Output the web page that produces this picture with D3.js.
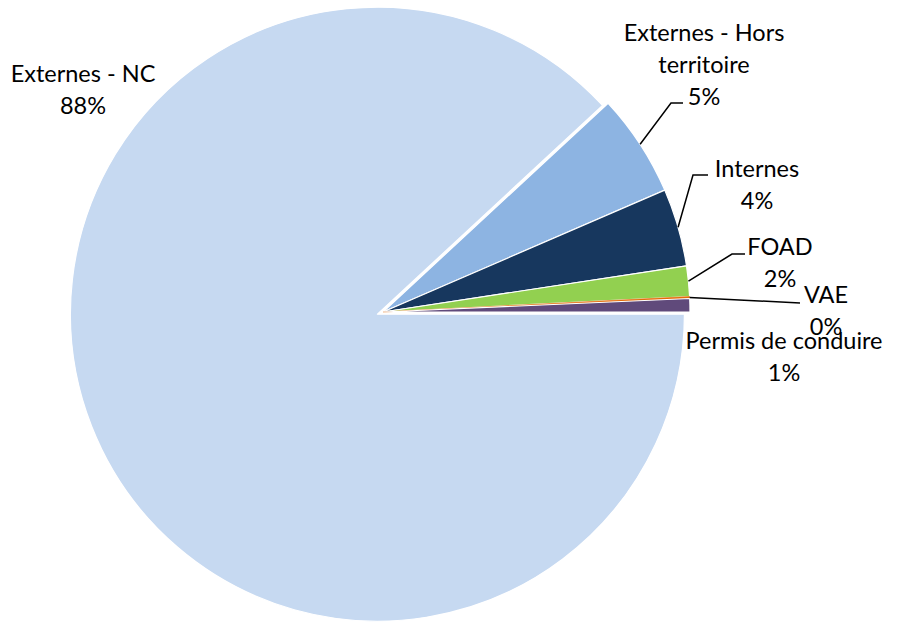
<!DOCTYPE html>
<html>
<head>
<meta charset="utf-8">
<script src="https://cdn.jsdelivr.net/npm/d3@7"></script>
<style>
  html, body { margin: 0; padding: 0; background: #ffffff; }
  svg { display: block; }
  text { font-family: Lato, "Open Sans", sans-serif; font-size: 23.5px; fill: #000; }
</style>
</head>
<body>
<svg id="chart" width="904" height="623"></svg>
<script>
// Répartition des formations par type (en %)
const categories = ["Externes - NC", "Externes - Hors territoire", "Internes", "FOAD", "VAE", "Permis de conduire"];
const values = [88.1, 5.4, 4.1, 1.6, 0.1, 0.7];
const colors = ["#C6D9F1", "#8DB4E2", "#17375E", "#92D050", "#E46C0A", "#604A7B"];

// Label text lines, anchor (centre x, first baseline) and optional leader elbow
const labelLines = [["Externes - NC"], ["Externes - Hors", "territoire"], ["Internes"], ["FOAD"], ["VAE"], ["Permis de conduire"]];
const labelAnchors = [[83, 82], [704, 41], [757, 177], [780, 255], [826, 303], [784, 349]];
const leaderElbows = [null, [[671, 103], [683, 103]], [[693, 175], [708, 175]], [[732, 254], [745, 254]], [[800, 303]], null];

const width = 904, height = 623;
const cx = 383, cy = 312, radius = 307;
const explode = 6; // first slice pulled out from the centre
const lineHeight = 32;

const svg = d3.select("#chart");
const total = d3.sum(values);

const pie = d3.pie()
  .sort(null)
  .value(d => d)
  .startAngle(Math.PI / 2)
  .endAngle(Math.PI / 2 + 2 * Math.PI);

const arcs = pie(values);
const arc = d3.arc().innerRadius(0).outerRadius(radius);
const color = d3.scaleOrdinal().domain(categories).range(colors);

const g = svg.append("g").attr("transform", `translate(${cx},${cy})`);

// Very thin slices keep their own colour as outline so they stay visible
const isSliver = d => (d.endAngle - d.startAngle) < 0.02;

g.selectAll("path.slice")
  .data(arcs)
  .join("path")
  .attr("class", "slice")
  .attr("transform", (d, i) => {
    if (i !== 0) return null;
    const mid = (d.startAngle + d.endAngle) / 2;
    return `translate(${explode * Math.sin(mid)},${-explode * Math.cos(mid)})`;
  })
  .attr("d", arc)
  .attr("fill", (d, i) => color(categories[i]))
  .attr("stroke", (d, i) => isSliver(d) ? color(categories[i]) : "#ffffff")
  .attr("stroke-width", d => isSliver(d) ? 0.6 : 1.2)
  .attr("stroke-linejoin", "round");

// Leader lines from the arc midpoint to the label
arcs.forEach((d, i) => {
  const elbow = leaderElbows[i];
  if (!elbow) return;
  const mid = (d.startAngle + d.endAngle) / 2;
  const start = [cx + radius * Math.sin(mid), cy - radius * Math.cos(mid)];
  const pts = [start].concat(elbow);
  svg.append("path")
    .attr("d", d3.line()(pts))
    .attr("fill", "none")
    .attr("stroke", "#000")
    .attr("stroke-width", 1.5);
});

// Category and percentage labels
arcs.forEach((d, i) => {
  const [lx, ly] = labelAnchors[i];
  const lines = labelLines[i].concat([Math.round(values[i] / total * 100) + "%"]);
  const t = svg.append("text")
    .attr("text-anchor", "middle")
    .attr("x", lx)
    .attr("y", ly);
  lines.forEach((line, k) => {
    t.append("tspan")
      .attr("x", lx)
      .attr("dy", k === 0 ? 0 : lineHeight)
      .text(line);
  });
});
</script>
</body>
</html>
